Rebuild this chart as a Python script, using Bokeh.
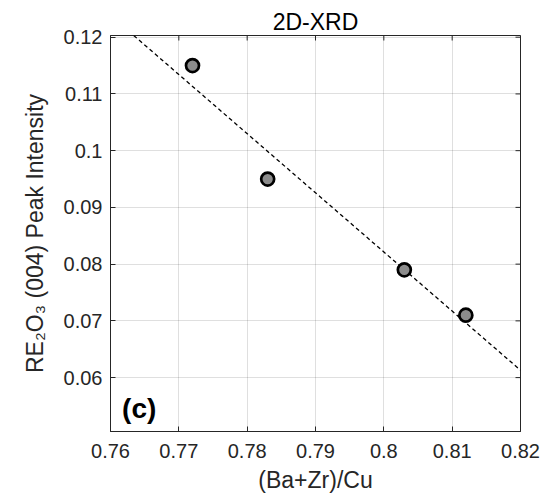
from bokeh.plotting import figure
from bokeh.models import FixedTicker, Range1d, Label, ColumnDataSource
from bokeh.embed import file_html
from bokeh.resources import INLINE

# ---- data ----
ba_zr_cu = [0.772, 0.783, 0.803, 0.812]
peak_intensity = [0.115, 0.095, 0.079, 0.071]

fit_x = [0.7634, 0.82]
fit_y = [0.1203, 0.0613]

x_ticks = [0.76, 0.77, 0.78, 0.79, 0.80, 0.81, 0.82]
x_tick_labels = ["0.76", "0.77", "0.78", "0.79", "0.8", "0.81", "0.82"]
y_ticks = [0.06, 0.07, 0.08, 0.09, 0.10, 0.11, 0.12]
y_tick_labels = ["0.06", "0.07", "0.08", "0.09", "0.1", "0.11", "0.12"]

x_limits = [0.76, 0.82]
y_limits = [0.0505, 0.1203]

title_text = "2D-XRD"
x_label = "(Ba+Zr)/Cu"
y_label = "RE\u2082O\u2083 (004) Peak Intensity"
panel_label = "(c)"

FONT = "Liberation Sans"
AXC = "#262626"

p = figure(width=551, height=504,
           x_range=Range1d(*x_limits), y_range=Range1d(*y_limits),
           output_backend="svg", toolbar_location=None,
           min_border_left=110, min_border_right=31,
           min_border_top=35, min_border_bottom=73)

p.background_fill_color = "white"
p.border_fill_color = "white"
p.outline_line_color = AXC
p.outline_line_width = 1

p.title.text = title_text
p.title.align = "center"
p.title.text_font = FONT
p.title.text_font_size = "23px"
p.title.text_font_style = "normal"
p.title.text_color = "#000000"
p.title.standoff = 2

def style_axis(ax, ticks, labels):
    ax.ticker = FixedTicker(ticks=ticks)
    ax.major_label_overrides = dict(zip(ticks, labels))
    ax.axis_line_color = AXC
    ax.major_tick_line_color = AXC
    ax.major_tick_in = 5
    ax.major_tick_out = 0
    ax.minor_tick_line_color = None
    ax.major_label_text_font = FONT
    ax.major_label_text_color = AXC
    ax.major_label_text_font_size = "20px"
    ax.axis_label_text_font = FONT
    ax.axis_label_text_font_size = "23px"
    ax.axis_label_text_font_style = "normal"
    ax.axis_label_text_color = AXC

xa = p.xaxis[0]
style_axis(xa, x_ticks, x_tick_labels)
xa.major_label_standoff = 12
xa.axis_label = x_label
xa.axis_label_standoff = 6

ya = p.yaxis[0]
style_axis(ya, y_ticks, y_tick_labels)
ya.major_label_standoff = 8
ya.axis_label = y_label
ya.axis_label_standoff = 13

for g in (p.xgrid[0], p.ygrid[0]):
    g.grid_line_color = AXC
    g.grid_line_alpha = 0.15
    g.grid_line_width = 1
p.xgrid[0].ticker = FixedTicker(ticks=x_ticks)
p.ygrid[0].ticker = FixedTicker(ticks=y_ticks)

# inward tick marks on the top and right edges of the box (clipped to the frame)
p.scatter(x=x_ticks, y=[y_limits[1]] * len(x_ticks), marker="dash", angle=1.5708,
          size=10, line_color=AXC, line_width=1)
p.scatter(x=[x_limits[1]] * len(y_ticks), y=y_ticks, marker="dash",
          size=10, line_color=AXC, line_width=1)

p.line(fit_x, fit_y, line_color="black", line_width=1.3, line_dash="4 3")

src = ColumnDataSource(dict(x=ba_zr_cu, y=peak_intensity))
p.scatter("x", "y", source=src, size=13, fill_color="#8c8c8c",
          line_color="black", line_width=2.7)

p.add_layout(Label(x=0.7617, y=0.0546, text=panel_label,
                   text_font=FONT, text_font_size="28px",
                   text_font_style="bold", text_color="black",
                   text_baseline="alphabetic"))

open("out.html", "w").write(file_html(p, INLINE))
